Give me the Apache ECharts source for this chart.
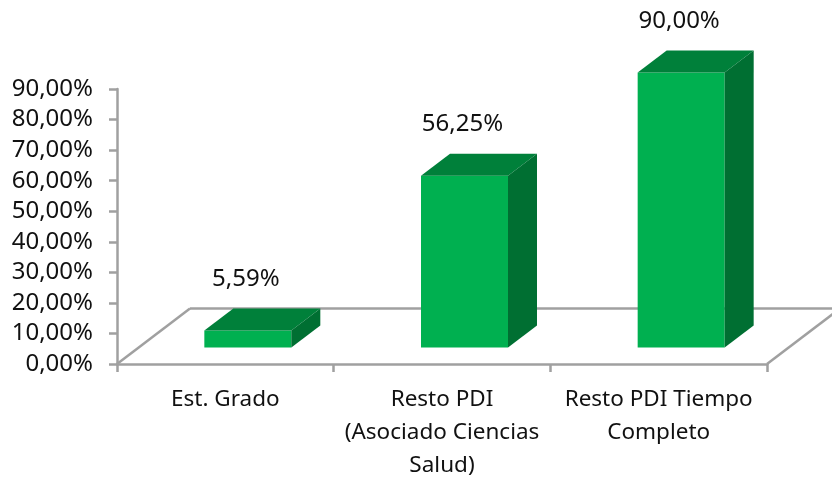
<!DOCTYPE html>
<html>
<head>
<meta charset="utf-8">
<style>
html, body { margin: 0; background: #fff; }
#chart { width: 832px; height: 480px; }
</style>
<script src="https://cdn.jsdelivr.net/npm/echarts@6/dist/echarts.min.js"></script>
</head>
<body>
<div id="chart"></div>
<script>
const categories = ['Est. Grado', 'Resto PDI\n(Asociado Ciencias\nSalud)', 'Resto PDI Tiempo\nCompleto'];
const values = [5.59, 56.25, 90];

const FONT = '"Noto Sans"';
const GRAY = '#a0a0a0';
const AXIS_W = 2.5;
// perspectiva de la base y profundidad de las barras
const FLOOR_DX = 73, FLOOR_DY = -55.5;
const BAR_DX = 29, BAR_DY = -22;
const BAR_SHIFT_X = 22.5, BAR_SHIFT_Y = -16.5;
const BAR_W = 87;

const pct = v => v.toFixed(2).replace('.', ',') + '%';

function renderFloor(params, api) {
    const g = params.coordSys;
    const x0 = g.x, x1 = g.x + g.width, y0 = g.y + g.height;
    const line = (a, b, c, d) => ({
        type: 'line',
        shape: {x1: a, y1: b, x2: c, y2: d},
        style: {stroke: GRAY, lineWidth: AXIS_W, fill: null}
    });
    return {
        type: 'group',
        children: [
            line(x0, y0, x0 + FLOOR_DX, y0 + FLOOR_DY),
            line(x1, y0, x1 + FLOOR_DX, y0 + FLOOR_DY),
            line(x0 + FLOOR_DX, y0 + FLOOR_DY, x1 + FLOOR_DX, y0 + FLOOR_DY)
        ]
    };
}

function renderBar(params, api) {
    const top = api.coord([api.value(0), api.value(1)]);
    const base = api.coord([api.value(0), 0]);
    const xl = top[0] - BAR_W / 2 + BAR_SHIFT_X;
    const xr = xl + BAR_W;
    const yt = top[1] + BAR_SHIFT_Y;
    const yb = base[1] + BAR_SHIFT_Y;
    const poly = (points, fill) => ({type: 'polygon', shape: {points}, style: {fill}});
    return {
        type: 'group',
        children: [
            poly([[xl, yb], [xr, yb], [xr, yt], [xl, yt]], '#00b050'),
            poly([[xl, yt], [xr, yt], [xr + BAR_DX, yt + BAR_DY], [xl + BAR_DX, yt + BAR_DY]], '#00803a'),
            poly([[xr, yb], [xr + BAR_DX, yb + BAR_DY], [xr + BAR_DX, yt + BAR_DY], [xr, yt]], '#006f32'),
            {
                type: 'text',
                style: {
                    x: (xl + xr) / 2 - 2,
                    y: yt - 51,
                    text: pct(api.value(1)),
                    fill: '#111',
                    font: '24px ' + FONT,
                    textAlign: 'center',
                    textVerticalAlign: 'middle'
                }
            }
        ]
    };
}

const myChart = echarts.init(document.getElementById('chart'), null, {renderer: 'canvas'});
myChart.setOption({
    animation: false,
    backgroundColor: '#fff',
    // sin esto ECharts 6 encoge el grid para que quepan las etiquetas
    grid: {left: 117, top: 89, width: 650, height: 275, outerBoundsMode: 'none'},
    xAxis: {
        type: 'category',
        data: categories,
        axisLine: {lineStyle: {color: GRAY, width: AXIS_W}},
        axisTick: {show: true, length: 8, lineStyle: {color: GRAY, width: AXIS_W}},
        axisLabel: {
            interval: 0,
            color: '#111',
            fontFamily: FONT,
            fontSize: 22.5,
            lineHeight: 33,
            margin: 19
        }
    },
    yAxis: {
        type: 'value',
        min: 0,
        max: 90,
        interval: 10,
        axisLine: {show: true, lineStyle: {color: GRAY, width: AXIS_W}},
        axisTick: {show: true, length: 8, lineStyle: {color: GRAY, width: AXIS_W}},
        splitLine: {show: false},
        axisLabel: {
            color: '#111',
            fontFamily: FONT,
            fontSize: 24,
            margin: 24,
            padding: [3, 0, 0, 0],
            formatter: v => pct(v)
        }
    },
    series: [
        {type: 'custom', renderItem: renderFloor, data: [0], silent: true, clip: false, z: 1},
        {
            type: 'custom',
            renderItem: renderBar,
            data: values.map((v, i) => [i, v]),
            encode: {x: 0, y: 1},
            clip: false,
            z: 2
        }
    ]
});
</script>
</body>
</html>
